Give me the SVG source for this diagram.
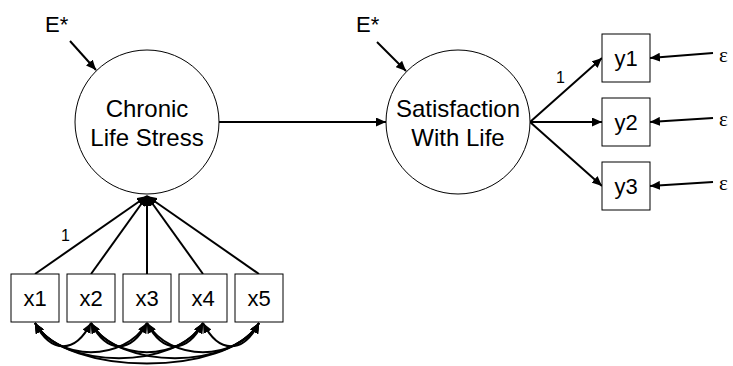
<svg xmlns="http://www.w3.org/2000/svg" width="733" height="366" viewBox="0 0 733 366">
<defs>
<marker id="ah" markerUnits="userSpaceOnUse" markerWidth="11" markerHeight="9" refX="10" refY="4.5" orient="auto"><path d="M0,0 L10,4.5 L0,9 z" fill="#000"/></marker>
<marker id="ah2" markerUnits="userSpaceOnUse" markerWidth="11" markerHeight="9" refX="10" refY="4.5" orient="auto-start-reverse"><path d="M0,0 L10,4.5 L0,9 z" fill="#000"/></marker>
</defs>
<style>
.n{fill:#fff;stroke:#000;stroke-width:1}
.c{fill:none;stroke:#000;stroke-width:2;marker-end:url(#ah)}
.d{fill:none;stroke:#000;stroke-width:2;marker-start:url(#ah2);marker-end:url(#ah2)}
.t{font-family:"Liberation Sans",Arial,sans-serif;fill:#000;text-anchor:middle}
.big{font-size:24px}
.box{font-size:22px}
.lab{font-family:"Liberation Sans",Arial,sans-serif;font-size:22px;fill:#000}
.sm{font-family:"Liberation Sans",Arial,sans-serif;font-size:16px;fill:#000}
.eps{font-family:"Liberation Serif","Times New Roman",serif;font-size:21px;fill:#000}
</style>
<g id="connectors">
<line class="c" x1="70" y1="41" x2="96" y2="70"/>
<line class="c" x1="377" y1="42" x2="406" y2="71"/>
<line class="c" x1="219" y1="122" x2="386" y2="122"/>
<line class="c" x1="35" y1="274" x2="147" y2="196"/>
<line class="c" x1="91" y1="274" x2="147" y2="196"/>
<line class="c" x1="147" y1="274" x2="147" y2="196"/>
<line class="c" x1="203" y1="274" x2="147" y2="196"/>
<line class="c" x1="259" y1="274" x2="147" y2="196"/>
<line class="c" x1="530" y1="122" x2="602" y2="58"/>
<line class="c" x1="530" y1="122" x2="602" y2="122"/>
<line class="c" x1="530" y1="122" x2="602" y2="186"/>
<line class="c" x1="713" y1="53" x2="650" y2="58"/>
<line class="c" x1="713" y1="118" x2="650" y2="122"/>
<line class="c" x1="713" y1="182" x2="650" y2="186"/>
<path class="d" d="M35,323 C51,354 75,354 91,323"/>
<path class="d" d="M91,323 C107,354 131,354 147,323"/>
<path class="d" d="M147,323 C163,354 187,354 203,323"/>
<path class="d" d="M203,323 C219,354 243,354 259,323"/>
<path class="d" d="M35,323 C58,362 124,362 147,323"/>
<path class="d" d="M91,323 C114,362 180,362 203,323"/>
<path class="d" d="M147,323 C170,362 236,362 259,323"/>
<path class="d" d="M35,323 C62,370 176,370 203,323"/>
<path class="d" d="M91,323 C118,370 232,370 259,323"/>
<path class="d" d="M35,323 C66,377 228,377 259,323"/>
</g>
<g id="E1"><text class="lab" x="45" y="32">E*</text></g>
<g id="E2"><text class="lab" x="356" y="32">E*</text></g>
<g id="CLS"><circle class="n" cx="147" cy="122" r="72"/><text class="t big" x="147" y="117">Chronic</text><text class="t big" x="147" y="146">Life Stress</text></g>
<g id="SWL"><circle class="n" cx="458" cy="122" r="72"/><text class="t big" x="458" y="117">Satisfaction</text><text class="t big" x="458" y="146">With Life</text></g>
<g id="x1"><rect class="n" x="11" y="274" width="48" height="48"/><text class="t box" x="35" y="306">x1</text></g>
<g id="x2"><rect class="n" x="67" y="274" width="48" height="48"/><text class="t box" x="91" y="306">x2</text></g>
<g id="x3"><rect class="n" x="123" y="274" width="48" height="48"/><text class="t box" x="147" y="306">x3</text></g>
<g id="x4"><rect class="n" x="179" y="274" width="48" height="48"/><text class="t box" x="203" y="306">x4</text></g>
<g id="x5"><rect class="n" x="235" y="274" width="48" height="48"/><text class="t box" x="259" y="306">x5</text></g>
<g id="y1"><rect class="n" x="602" y="34" width="48" height="48"/><text class="t box" x="626" y="66">y1</text></g>
<g id="y2"><rect class="n" x="602" y="98" width="48" height="48"/><text class="t box" x="626" y="130">y2</text></g>
<g id="y3"><rect class="n" x="602" y="162" width="48" height="48"/><text class="t box" x="626" y="194">y3</text></g>
<g id="e1"><text class="eps" x="719" y="62">ε</text></g>
<g id="e2"><text class="eps" x="719" y="126">ε</text></g>
<g id="e3"><text class="eps" x="719" y="190">ε</text></g>
<g id="labels"><text class="sm" x="61" y="241">1</text><text class="sm" x="556" y="83">1</text></g>
</svg>
